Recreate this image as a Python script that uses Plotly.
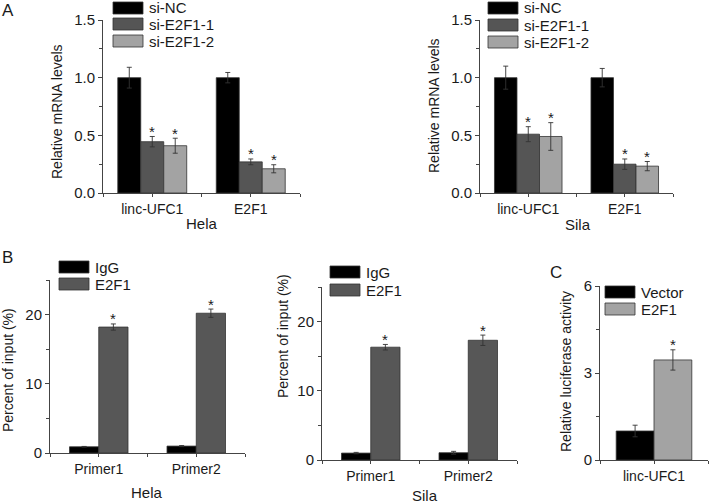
import plotly.graph_objects as go

W, H = 709, 504

# ---------------- data ----------------
a_categories = ["linc-UFC1", "E2F1"]
a_series = ["si-NC", "si-E2F1-1", "si-E2F1-2"]
a_hela_values = {"si-NC": [1.00, 1.00], "si-E2F1-1": [0.445, 0.27], "si-E2F1-2": [0.41, 0.21]}
a_hela_errors = {"si-NC": [0.09, 0.045], "si-E2F1-1": [0.045, 0.025], "si-E2F1-2": [0.065, 0.035]}
a_hela_sig = {"si-NC": [False, False], "si-E2F1-1": [True, True], "si-E2F1-2": [True, True]}
a_sila_values = {"si-NC": [1.00, 1.00], "si-E2F1-1": [0.51, 0.25], "si-E2F1-2": [0.49, 0.233]}
a_sila_errors = {"si-NC": [0.10, 0.08], "si-E2F1-1": [0.065, 0.045], "si-E2F1-2": [0.12, 0.04]}
a_sila_sig = {"si-NC": [False, False], "si-E2F1-1": [True, True], "si-E2F1-2": [True, True]}

b_categories = ["Primer1", "Primer2"]
b_series = ["IgG", "E2F1"]
b_hela_values = {"IgG": [0.9, 1.0], "E2F1": [18.2, 20.2]}
b_hela_errors = {"IgG": [0.05, 0.08], "E2F1": [0.45, 0.6]}
b_sila_values = {"IgG": [1.0, 1.05], "E2F1": [16.3, 17.3]}
b_sila_errors = {"IgG": [0.1, 0.2], "E2F1": [0.4, 0.75]}
b_sig = {"IgG": [False, False], "E2F1": [True, True]}

c_categories = ["linc-UFC1"]
c_series = ["Vector", "E2F1"]
c_values = {"Vector": [1.0], "E2F1": [3.45]}
c_errors = {"Vector": [0.2], "E2F1": [0.35]}
c_sig = {"Vector": [False], "E2F1": [True]}

colors = {"si-NC": "#000000", "si-E2F1-1": "#555555", "si-E2F1-2": "#a3a3a3",
          "IgG": "#000000", "E2F1_B": "#575757", "Vector": "#000000", "E2F1_C": "#a3a3a3"}

FONT = "Liberation Sans, Arial, sans-serif"
TXT = "#1a1a1a"

def fx(px):
    return px / W

def fy(py):
    return 1 - py / H

fig = go.Figure()

def add_panel(idx, cats, series, values, errors, sig, cols, group_w):
    xa = "x" if idx == 1 else f"x{idx}"
    ya = "y" if idx == 1 else f"y{idx}"
    n = len(series)
    bw = group_w / n
    xs = list(range(len(cats)))
    for k, s in enumerate(series):
        off = -group_w / 2 + k * bw
        fig.add_trace(go.Bar(
            x=xs, y=values[s], width=bw, offset=off,
            marker=dict(color=cols[k], line=dict(color="#333333", width=0.8)),
            error_y=dict(type="data", array=errors[s], visible=True,
                         color="#333333", thickness=0.9, width=2.5),
            xaxis=xa, yaxis=ya, showlegend=False, name=s))
        for i in xs:
            if sig[s][i]:
                fig.add_annotation(
                    xref=xa, yref=ya, x=i + off + bw / 2, y=values[s][i] + errors[s][i],
                    text="*", showarrow=False, xanchor="center", yanchor="middle", yshift=5,
                    font=dict(family=FONT, size=15, color=TXT))

add_panel(1, a_categories, a_series, a_hela_values, a_hela_errors, a_hela_sig,
          [colors[s] for s in a_series], 0.70)
add_panel(2, a_categories, a_series, a_sila_values, a_sila_errors, a_sila_sig,
          [colors[s] for s in a_series], 0.70)
add_panel(3, b_categories, b_series, b_hela_values, b_hela_errors, b_sig,
          [colors["IgG"], colors["E2F1_B"]], 0.60)
add_panel(4, b_categories, b_series, b_sila_values, b_sila_errors, b_sig,
          [colors["IgG"], colors["E2F1_B"]], 0.60)
add_panel(5, c_categories, c_series, c_values, c_errors, c_sig,
          [colors["Vector"], colors["E2F1_C"]], 0.70)

def xaxis(dom, cats, rng, anchor):
    return dict(domain=[fx(dom[0]), fx(dom[1])], range=rng, anchor=anchor,
                tickmode="array", tickvals=list(range(len(cats))), ticktext=cats,
                ticks="outside", ticklen=3, tickcolor="#444444",
                minor=dict(ticks="outside", ticklen=3, dtick=0.5, tick0=0.5, tickcolor="#444444"),
                showline=True, linecolor="#444444", linewidth=1,
                showgrid=False, zeroline=False, automargin=False,
                tickfont=dict(family=FONT, size=14, color=TXT),
                fixedrange=True)

def yaxis(dom, rng, dtick, mdtick, fmt, anchor):
    return dict(domain=[fy(dom[1]), fy(dom[0])], range=rng, dtick=dtick, tick0=0,
                tickformat=fmt, ticks="outside", ticklen=4, tickcolor="#444444",
                minor=dict(ticks="outside", ticklen=3, dtick=mdtick, tickcolor="#444444"),
                showline=True, linecolor="#444444", linewidth=1,
                showgrid=False, zeroline=False, anchor=anchor, automargin=False,
                tickfont=dict(family=FONT, size=15, color=TXT),
                fixedrange=True)

fig.update_layout(
    template="none",
    width=W, height=H, margin=dict(l=0, r=0, t=0, b=0, autoexpand=False),
    paper_bgcolor="white", plot_bgcolor="white", barmode="overlay", showlegend=False,
    xaxis=xaxis((103, 300), a_categories, [-0.5, 1.5], "y"),
    yaxis=yaxis((20, 193), [0, 1.5], 0.5, 0.25, ".1f", "x"),
    xaxis2=xaxis((480, 673), a_categories, [-0.5, 1.5], "y2"),
    yaxis2=yaxis((20, 193), [0, 1.5], 0.5, 0.25, ".1f", "x2"),
    xaxis3=xaxis((50, 245), b_categories, [-0.5, 1.5], "y3"),
    yaxis3=yaxis((280, 453), [0, 25], 10, 5, "d", "x3"),
    xaxis4=xaxis((322, 517), b_categories, [-0.5, 1.5], "y4"),
    yaxis4=yaxis((287, 460), [0, 25], 10, 5, "d", "x4"),
    xaxis5=xaxis((600, 708), c_categories, [-0.5, 0.5], "y5"),
    yaxis5=yaxis((286, 460), [0, 6], 3, 1.5, "d", "x5"),
)

# ---------------- axis titles ----------------
def note(text, px, py, size, angle=0):
    fig.add_annotation(xref="paper", yref="paper", x=fx(px), y=fy(py), text=text,
                       showarrow=False, xanchor="center", yanchor="middle", textangle=angle,
                       font=dict(family=FONT, size=size, color=TXT))

note("Hela", 202, 223, 15)
note("Sila", 578, 224, 15)
note("Hela", 147, 492, 15)
note("Sila", 425, 495, 15)
note("Relative mRNA levels", 57, 112, 14, -90)
note("Relative mRNA levels", 434, 106, 14, -90)
note("Percent of input (%)", 8, 370, 14, -90)
note("Percent of input (%)", 283, 336, 14, -90)
note("Relative luciferase activity", 566, 372, 14, -90)

# ---------------- custom legends ----------------
def legend(x0, ys, labels, cols, bw=30, bh=12):
    for yc, lab, col in zip(ys, labels, cols):
        fig.add_shape(type="rect", xref="paper", yref="paper",
                      x0=fx(x0), x1=fx(x0 + bw), y0=fy(yc + bh / 2), y1=fy(yc - bh / 2),
                      fillcolor=col, line=dict(color="#333333", width=0.8))
        fig.add_annotation(xref="paper", yref="paper", x=fx(x0 + bw + 4), y=fy(yc),
                           text=lab, showarrow=False, xanchor="left", yanchor="middle",
                           font=dict(family=FONT, size=15, color=TXT))

legend(113, [8, 24, 41], a_series, [colors[s] for s in a_series])
legend(488, [8, 25, 42], a_series, [colors[s] for s in a_series])
legend(59, [267, 284], b_series, [colors["IgG"], colors["E2F1_B"]])
legend(330, [272, 290], b_series, [colors["IgG"], colors["E2F1_B"]])
legend(605, [292, 309], c_series, [colors["Vector"], colors["E2F1_C"]])

for letter, px, py in [("A", 8, 10), ("B", 7, 257), ("C", 556, 272)]:
    note(letter, px, py, 17)

fig.write_html("out.html", config={"displayModeBar": False},
               post_script="document.body.style.margin='0';document.body.style.padding='0';")
